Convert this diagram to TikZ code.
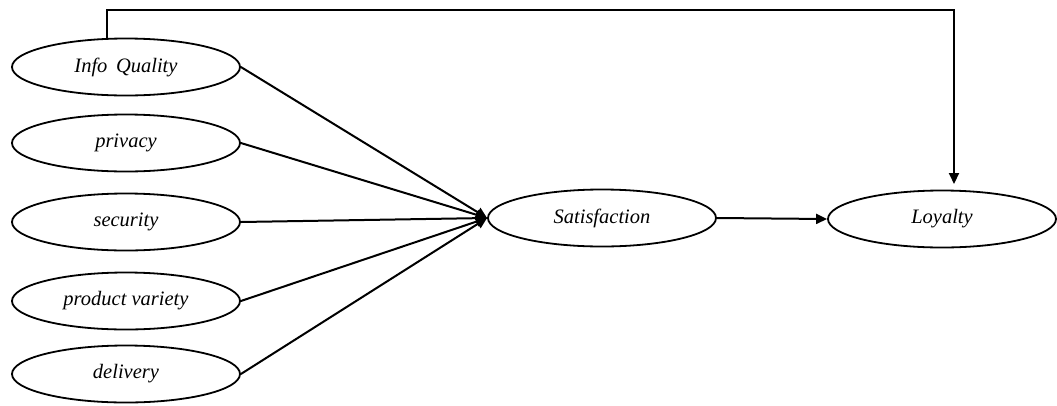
\documentclass[tikz,border=0pt]{standalone}
\usepackage{fontspec}
\setmainfont{Liberation Serif}
\usetikzlibrary{shapes.geometric,arrows.meta}
\begin{document}
\begin{tikzpicture}[x=1pt,y=-1pt,
  construct/.style={draw,ellipse,line width=1.8pt,minimum width=228pt,minimum height=57pt,inner sep=0pt,
    font=\fontsize{20.5}{24}\selectfont\itshape},
  path/.style={line width=2pt,-{Triangle[length=11pt,width=10pt]}}]
  \useasboundingbox (0,0) rectangle (1057,405);
  % exogenous constructs
  \node[construct] (iq)  at (126,67)  {Info\, Quality};
  \node[construct] (pr)  at (126,143) {privacy};
  \node[construct] (se)  at (126,222) {security};
  \node[construct] (pv)  at (126,301) {product variety};
  \node[construct] (de)  at (126,374) {delivery};
  % mediator and outcome
  \node[construct] (sat) at (602,218) {Satisfaction};
  \node[construct,minimum width=228pt] (loy) at (942,219) {Loyalty};
  % paths into satisfaction
  \foreach \n in {iq,pr,se,pv,de}
    \draw[path] (\n.east) -- (sat.west);
  \draw[path] (sat.east) -- (loy.west);
  % direct path from info quality to loyalty
  \coordinate (c1) at (107,10);
  \coordinate (c2) at (954,10);
  \coordinate (c3) at (954,184);
  \draw[path] (iq.north -| c1) -- (c1) -- (c2) -- (c3);
\end{tikzpicture}
\end{document}
